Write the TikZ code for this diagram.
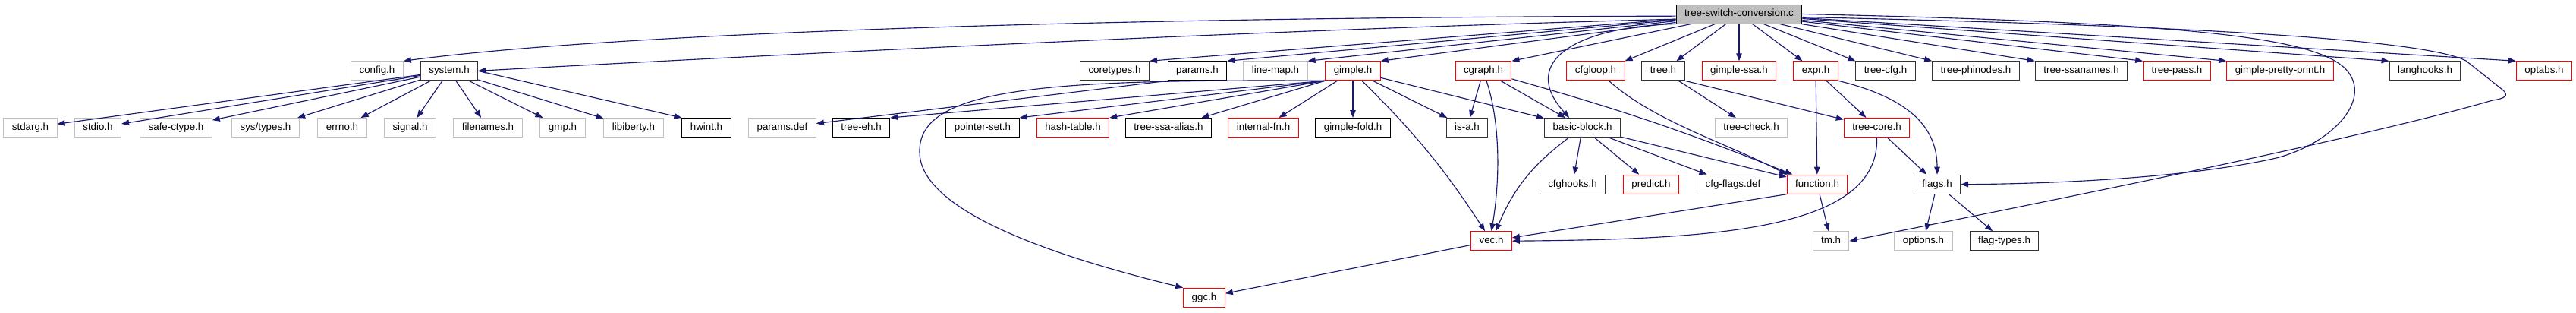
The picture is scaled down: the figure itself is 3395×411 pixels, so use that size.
\documentclass[tikz,border=0pt]{standalone}
\usepackage{fontspec}
\setmainfont{Liberation Sans}
\usepackage{tikz}
\usetikzlibrary{arrows.meta}
\definecolor{edgeblue}{HTML}{191970}
\definecolor{boxgray}{HTML}{BFBFBF}

\begin{document}
\begin{tikzpicture}[
	x=0.75pt, y=-0.75pt,
	FileBox/.style={rectangle, line width=0.75pt, minimum height=18.75pt, inner xsep=8.25pt, inner ysep=0pt, text height=7.3pt, text depth=2.2pt, font=\fontsize{10pt}{12pt}\selectfont},
	DocBox/.style={FileBox, draw=black!80},
	PlainBox/.style={FileBox, draw=black},
	GrayBox/.style={FileBox, draw=boxgray},
	RedBox/.style={FileBox, draw=red},
	RootBox/.style={FileBox, draw=black, fill=boxgray},
	Dep/.style={draw=edgeblue, line width=0.85pt, -{Triangle[length=7.5pt, width=5.6pt]}}
	]
	\useasboundingbox (0,0) rectangle (3395,411);
	
	% rows of the include graph
	\pgfmathparse{18.5}		\let\RowA\pgfmathresult
	\pgfmathparse{93.3}		\let\RowB\pgfmathresult
	\pgfmathparse{168}		\let\RowC\pgfmathresult
	\pgfmathparse{242.7}	\let\RowD\pgfmathresult
	\pgfmathparse{317.2}	\let\RowE\pgfmathresult
	\pgfmathparse{391.7}	\let\RowF\pgfmathresult
	
	\node[RootBox] (root) at (2292,\RowA) {tree-switch-conversion.c};
	
	\node[GrayBox] (config) at (497,\RowB) {config.h};
	\node[DocBox] (system) at (592,\RowB) {system.h};
	\node[DocBox] (coretypes) at (1469,\RowB) {coretypes.h};
	\node[PlainBox] (params) at (1578,\RowB) {params.h};
	\node[GrayBox] (linemap) at (1681,\RowB) {line-map.h};
	\node[RedBox] (gimple) at (1783,\RowB) {gimple.h};
	\node[RedBox] (cgraph) at (1955,\RowB) {cgraph.h};
	\node[RedBox] (cfgloop) at (2103,\RowB) {cfgloop.h};
	\node[DocBox] (tree) at (2192,\RowB) {tree.h};
	\node[RedBox] (gimplessa) at (2292,\RowB) {gimple-ssa.h};
	\node[RedBox] (expr) at (2393,\RowB) {expr.h};
	\node[DocBox] (treecfg) at (2485,\RowB) {tree-cfg.h};
	\node[DocBox] (treephinodes) at (2604,\RowB) {tree-phinodes.h};
	\node[DocBox] (treessanames) at (2743,\RowB) {tree-ssanames.h};
	\node[RedBox] (treepass) at (2869,\RowB) {tree-pass.h};
	\node[RedBox] (gimplepp) at (3005,\RowB) {gimple-pretty-print.h};
	\node[DocBox] (langhooks) at (3196,\RowB) {langhooks.h};
	\node[RedBox] (optabs) at (3353,\RowB) {optabs.h};
	
	\node[GrayBox] (stdarg) at (40,\RowC) {stdarg.h};
	\node[GrayBox] (stdio) at (129,\RowC) {stdio.h};
	\node[GrayBox] (safectype) at (232,\RowC) {safe-ctype.h};
	\node[GrayBox] (systypes) at (350,\RowC) {sys/types.h};
	\node[GrayBox] (errno) at (451,\RowC) {errno.h};
	\node[GrayBox] (signal) at (540.5,\RowC) {signal.h};
	\node[GrayBox] (filenames) at (643,\RowC) {filenames.h};
	\node[GrayBox] (gmp) at (741.5,\RowC) {gmp.h};
	\node[GrayBox] (libiberty) at (835,\RowC) {libiberty.h};
	\node[PlainBox] (hwint) at (931,\RowC) {hwint.h};
	\node[GrayBox] (paramsdef) at (1031,\RowC) {params.def};
	\node[PlainBox] (treeeh) at (1135,\RowC) {tree-eh.h};
	\node[PlainBox] (pointerset) at (1295,\RowC) {pointer-set.h};
	\node[RedBox] (hashtable) at (1414,\RowC) {hash-table.h};
	\node[PlainBox] (treessaalias) at (1540,\RowC) {tree-ssa-alias.h};
	\node[RedBox] (internalfn) at (1665,\RowC) {internal-fn.h};
	\node[PlainBox] (gimplefold) at (1783,\RowC) {gimple-fold.h};
	\node[DocBox] (isa) at (1933.5,\RowC) {is-a.h};
	\node[DocBox] (basicblock) at (2085.5,\RowC) {basic-block.h};
	\node[GrayBox] (treecheck) at (2308,\RowC) {tree-check.h};
	\node[RedBox] (treecore) at (2473.5,\RowC) {tree-core.h};
	
	\node[DocBox] (cfghooks) at (2072.5,\RowD) {cfghooks.h};
	\node[RedBox] (predict) at (2176,\RowD) {predict.h};
	\node[GrayBox] (cfgflagsdef) at (2284,\RowD) {cfg-flags.def};
	\node[RedBox] (function) at (2395,\RowD) {function.h};
	\node[DocBox] (flags) at (2553,\RowD) {flags.h};
	
	\node[RedBox] (vec) at (1965.5,\RowE) {vec.h};
	\node[GrayBox] (tm) at (2413,\RowE) {tm.h};
	\node[GrayBox] (options) at (2535,\RowE) {options.h};
	\node[DocBox] (flagtypes) at (2641.5,\RowE) {flag-types.h};
	
	\node[RedBox] (ggc) at (1587,\RowF) {ggc.h};
	
	% includes of the root file
	\draw[Dep] ([yshift=-2pt]root.west) .. controls (1400,23) and (800,45) .. (config.north east);
	\draw[Dep] ([yshift=-5pt]root.west) .. controls (1700,38) and (1100,68) .. (system.east);
	\foreach \f in {coretypes,params,linemap,gimple,cgraph,cfgloop}
		\draw[Dep] (root) -- (\f.north east);
	\foreach \f in {tree,gimplessa,expr}
		\draw[Dep] (root) -- (\f);
	\foreach \f in {treecfg,treephinodes,treessanames,treepass,gimplepp,langhooks,optabs}
		\draw[Dep] (root) -- (\f.north west);
	\draw[Dep] (root.south west) .. controls (2080,35) and (2000,80) .. ([xshift=-13pt]basicblock.north);
	\draw[Dep] (root.east) .. controls (2900,30) and (3060,50) .. (3095,95)
		.. controls (3125,135) and (3070,190) .. (3000,208)
		.. controls (2880,235) and (2700,242) .. (flags.east);
	\draw[Dep] ([yshift=-3pt]root.east) .. controls (2950,35) and (3200,55) .. (3250,80) -- (3298,118)
		.. controls (3308,126) and (3300,130) .. (3285,132)
		.. controls (3120,180) and (2750,255) .. (tm.east);
	
	% system.h
	\foreach \f in {stdarg,stdio,safectype,systypes,errno,signal,filenames,gmp,libiberty}
		\draw[Dep] (system) -- (\f);
	\draw[Dep] (system.east) -- (hwint.north west);
	
	\draw[Dep] (params.south west) -- (paramsdef);
	
	% gimple.h
	\foreach \f in {treeeh,pointerset,hashtable}
		\draw[Dep] (gimple.south west) -- (\f.north east);
	\draw[Dep] (gimple.south west) -- (treessaalias);
	\foreach \f in {internalfn,gimplefold,isa,basicblock}
		\draw[Dep] (gimple) -- (\f);
	\draw[Dep] ([xshift=9pt]gimple.south) to[bend left=6] (vec);
	\draw[Dep] (gimple.south west) .. controls (1380,104) and (1210,115) .. (1212,200)
		.. controls (1212,280) and (1400,340) .. (ggc.north west);
	
	% cgraph.h
	\foreach \f in {isa,basicblock}
		\draw[Dep] (cgraph) -- (\f);
	\draw[Dep] ([xshift=3pt]cgraph.south) .. controls (1980,170) and (1975,250) .. (vec.north);
	\draw[Dep] (cgraph) to[bend left=3] (function);
	
	% basic-block.h
	\foreach \f in {cfghooks,predict,cfgflagsdef,function}
		\draw[Dep] (basicblock) -- (\f);
	\draw[Dep] (basicblock) to[bend right=15] (vec);
	
	\draw[Dep] ([xshift=13pt]cfgloop.south) .. controls (2180,160) and (2280,190) .. (function.north west);
	\draw[Dep] (tree) -- (treecheck);
	\draw[Dep] (tree.south east) -- (treecore);
	
	% expr.h
	\draw[Dep] (expr) -- (function);
	\draw[Dep] (expr) -- (treecore);
	\draw[Dep] (expr.south east) .. controls (2520,130) and (2553,170) .. (flags.north);
	
	\draw[Dep] (function.south west) -- (vec);
	\draw[Dep] (function) -- (tm);
	\draw[Dep] (treecore.south) .. controls (2478,305) and (2250,315) .. (vec.east);
	\draw[Dep] (treecore) -- (flags);
	\foreach \f in {options,flagtypes}
		\draw[Dep] (flags) -- (\f);
	\draw[Dep] (vec) -- (ggc);
	
\end{tikzpicture}
\end{document}
